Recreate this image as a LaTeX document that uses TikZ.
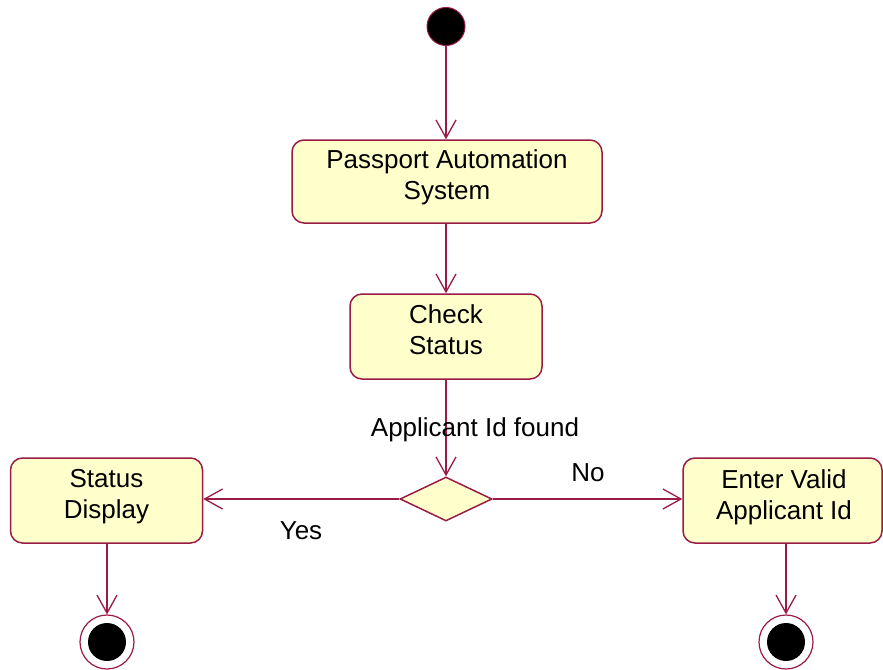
\documentclass[tikz,border=0pt]{standalone}
\usepackage{fontspec}
\setmainfont{Liberation Sans}
\usetikzlibrary{arrows.meta,shapes.geometric}
\definecolor{umlred}{HTML}{9B1B47}
\definecolor{umlfill}{HTML}{FFFFCC}
\begin{document}
\begin{tikzpicture}[x=1pt,y=-1pt,
  every node/.style={font=\fontsize{26}{31}\selectfont},
  act/.style={draw=umlred,fill=umlfill,line width=1.5pt,rounded corners=12pt,inner sep=0pt},
  txt/.style={align=center,inner sep=0pt},
  flow/.style={draw=umlred,line width=1.4pt,-{Straight Barb[length=18pt,width=20pt,line width=1.3pt]}},
  lbl/.style={inner sep=0pt}]
\useasboundingbox (0,0) rectangle (883,669);
% start
\node[circle,fill=black,draw=umlred,line width=1pt,minimum size=38pt,inner sep=0pt] (s) at (446,26.5) {};
% activities
\node[act,minimum width=310pt,minimum height=83pt] (a) at (447,181.5) {};
\node[txt] (at) at (447,177) {Passport Automation\\System};
\node[act,minimum width=192pt,minimum height=85pt] (b) at (446,336.5) {};
\node[txt] (bt) at (446,330) {Check\\Status};
\node[diamond,draw=umlred,fill=umlfill,line width=1.5pt,minimum width=92pt,minimum height=44pt,inner sep=0pt] (d) at (446,499) {};
\node[act,minimum width=192pt,minimum height=85pt] (c) at (106.5,500.5) {};
\node[txt] (ct) at (106.5,497) {Status\\Display};
\node[act,minimum width=199pt,minimum height=85pt] (e) at (782.5,500.5) {};
\node[txt] (et) at (784,497) {Enter Valid\\Applicant Id};
% final states
\node[circle,draw=umlred,line width=1.2pt,fill=white,minimum size=54pt,inner sep=0pt] (f1) at (107,642) {};
\node[circle,fill=black,minimum size=38pt,inner sep=0pt] (f1i) at (f1.center) {};
\node[circle,draw=umlred,line width=1.2pt,fill=white,minimum size=54pt,inner sep=0pt] (f2) at (786,642) {};
\node[circle,fill=black,minimum size=38pt,inner sep=0pt] (f2i) at (f2.center) {};
% flows
\draw[flow] (s) -- (a.north -| s);
\draw[flow] (a.south -| b) -- (b);
\draw[flow] (b) -- (d.north);
\node[lbl] (l1) at (475,430) {Applicant Id found};
\draw[flow] (d.west) -- (c.east |- d);
\node[lbl] (l2) at (301,531) {Yes};
\draw[flow] (d.east) -- (e.west |- d);
\node[lbl] (l3) at (588,473) {No};
\draw[flow] (c.south -| f1) -- (f1.north);
\draw[flow] (e.south -| f2) -- (f2.north);
\end{tikzpicture}
\end{document}
